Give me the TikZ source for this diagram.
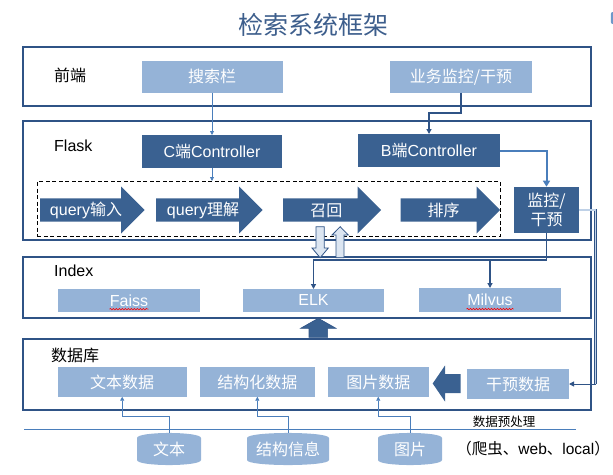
\documentclass[tikz,border=0pt]{standalone}
\usepackage{fontspec}
\setmainfont{Noto Sans CJK SC}
\newfontfamily\lat{Liberation Sans}
\usetikzlibrary{arrows.meta,calc,positioning,decorations.pathmorphing}

\definecolor{lightbox}{HTML}{95B3D7}
\definecolor{darkbox}{HTML}{3A6191}
\definecolor{frameblue}{HTML}{2F5386}
\definecolor{linkblue}{HTML}{4A7EBB}
\definecolor{titleblue}{HTML}{3D5E8C}
\definecolor{paleblue}{HTML}{DCE6F2}

\begin{document}
\begin{tikzpicture}[x=1pt,y=-1pt,>=Stealth]
  % Global text size and styles
  \def\fs{\fontsize{16}{19}\selectfont} % body text size
  \tikzset{
    section/.style = {draw=frameblue, line width=2pt, anchor=north west, minimum width=568.3pt, inner sep=0pt, outer sep=0pt},
    tag/.style     = {anchor=west, font=\fs, inner sep=0pt},
    lbox/.style    = {fill=lightbox, text=white, font=\fs, inner sep=0pt, outer sep=0pt},
    dbox/.style    = {fill=darkbox, text=white, font=\fs, inner sep=0pt, outer sep=0pt},
    flowtext/.style = {text=white, font=\fs, inner sep=0pt},
    cyltext/.style = {text=white, font=\fs, inner sep=0pt, minimum height=32pt},
    link/.style    = {draw=linkblue, line width=0.8pt, -{Triangle[length=4pt,width=4pt]}},
    mlink/.style   = {draw=frameblue, line width=1.5pt, -{Triangle[length=5pt,width=5pt]}},
    rail/.style    = {draw=frameblue, line width=0.6pt, double=lightbox!60, double distance=1.2pt},
    hollow/.style  = {fill=paleblue, draw=frameblue, line width=0.8pt},
    squiggle/.style = {draw=red, line width=0.6pt, decorate, decoration={snake, amplitude=0.7pt, segment length=3pt}}
  }
  \useasboundingbox (0,0) rectangle (613,474);

  % --- Title ---
  \node[font=\fontsize{25}{30}\selectfont, text=titleblue] (title) at (313,25) {检索系统框架};
  \fill[linkblue!80, rounded corners=2pt] (610.8,12) rectangle (620,24);

  % --- Layer frames ---
  \node[section, minimum height=59.3pt]  (front) at (22.7,46.7) {};
  \node[section, minimum height=119pt]   (flask) at (22.7,121) {};
  \node[section, minimum height=61.6pt]  (index) at (22.7,256.7) {};
  \node[section, minimum height=71.4pt]  (db)    at (22.7,339) {};

  \node[tag] (frontlbl) at (54,75)    {前端};
  \node[tag] (flasklbl) at (54,145.7) {\lat Flask};
  \node[tag] (indexlbl) at (54,270.7) {\lat Index};
  \node[tag] (dblbl)    at (51,355)   {数据库};

  % --- Front end ---
  \node[lbox, minimum width=141pt, minimum height=31.7pt] (search)    at (212,76.85) {搜索栏};
  \node[lbox, minimum width=142pt, minimum height=31.7pt] (monitorui) at (461,76.85) {业务监控/干预};

  % --- Flask ---
  \node[dbox, minimum width=140pt, minimum height=33.3pt] (cctrl) at (212,151.65) {{\lat C}端{\lat Controller}};
  \node[dbox, minimum width=142pt, minimum height=33pt]   (bctrl) at (429,150.5)  {{\lat B}端{\lat Controller}};
  \node[dbox, minimum width=65pt, minimum height=46.6pt, align=center] (monitor) at (546.5,210) {监控/\\干预};

  \node[draw, line width=0.8pt, dash pattern=on 4pt off 2.5pt, anchor=north west,
        minimum width=463pt, minimum height=54.7pt, inner sep=0pt] (pipeline) at (37,181) {};

  % pipeline steps: tail / tip / text centre
  \foreach \xa/\xt/\xc/\nm/\txt in {40/144.6/86/qinput/{\lat query}输入,
                                   156/262.7/203/qparse/{\lat query}理解,
                                   283/381/326.4/recall/召回,
                                   400.7/500/443.7/rank/排序} {
    \fill[darkbox] (\xa,198.3) -- ({\xt-23.5},198.3) -- ({\xt-23.5},186.5) -- (\xt,210)
      -- ({\xt-23.5},233.5) -- ({\xt-23.5},221.7) -- (\xa,221.7) -- cycle;
    \node[flowtext] (\nm) at (\xc,210.5) {\txt};
  }

  % --- Index ---
  \node[lbox, minimum width=142pt, minimum height=22.7pt] (faiss)  at (129,300.35)   {\lat Faiss};
  \node[lbox, minimum width=141pt, minimum height=22.7pt] (elk)    at (313.5,300.35) {\lat ELK};
  \node[lbox, minimum width=142pt, minimum height=23.7pt] (milvus) at (490,299.85)   {\lat Milvus};
  \draw[squiggle] ($(faiss)+(-19.5,8.8)$) -- ($(faiss)+(19.5,8.8)$);
  \draw[squiggle] ($(milvus)+(-23.5,9.2)$) -- ($(milvus)+(23.5,9.2)$);

  % --- Database ---
  \node[lbox, minimum width=128.6pt, minimum height=29.4pt] (textdata)   at (122.2,382)  {文本数据};
  \node[lbox, minimum width=114.7pt, minimum height=29.4pt] (structdata) at (257.35,382) {结构化数据};
  \node[lbox, minimum width=101.3pt, minimum height=29.4pt] (imagedata)  at (378.25,382) {图片数据};
  \node[lbox, minimum width=102pt,   minimum height=30pt]   (ganyu)      at (518,384)    {干预数据};

  % --- Block arrows between layers ---
  \draw[hollow] (316,226.7) -- (324.3,226.7) -- (324.3,248) -- (328.3,248) -- (320.15,257.7)
    -- (312,248) -- (316,248) -- cycle;
  \draw[hollow] (336,257.7) -- (344,257.7) -- (344,235) -- (348.3,235) -- (340.15,226.7)
    -- (332,235) -- (336,235) -- cycle;
  \draw[fill=darkbox, draw=frameblue, line width=0.6pt] (309,337.3) -- (327.6,337.3) -- (327.6,328.3)
    -- (336,328.3) -- (318.3,318.3) -- (300.6,328.3) -- (309,328.3) -- cycle;
  \fill[darkbox] (460.7,374) -- (445,374) -- (445,365.5) -- (432.7,383.5) -- (445,401.5)
    -- (445,393) -- (460.7,393) -- cycle;

  % --- Sources ---
  \node[font=\fontsize{12.5}{15}\selectfont] (prep) at (504,421.7) {数据预处理};
  \draw[linkblue, line width=0.8pt] (24,429.3) -- (575.5,429.3);

  \foreach \cx/\hw/\nm/\txt in {169/32/srctext/文本, 288/41/srcstruct/结构信息, 410/32/srcimage/图片} {
    \fill[lightbox] ({\cx-\hw},438) .. controls ({\cx-\hw},431.3) and ({\cx+\hw},431.3) .. ({\cx+\hw},438)
      -- ({\cx+\hw},460) .. controls ({\cx+\hw},466.7) and ({\cx-\hw},466.7) .. ({\cx-\hw},460) -- cycle;
    \node[cyltext, minimum width=2*\hw] (\nm) at (\cx,449) {\txt};
  }
  \node[font=\fontsize{15.5}{18}\selectfont, inner sep=0pt, anchor=east] (crawl) at (610,448.3) {（爬虫、{\lat web}、{\lat local}）};

  % --- Connectors ---
  \draw[link] (search.south) -- (cctrl.north);
  \draw[link] (cctrl.south) -- (cctrl.south |- pipeline.north);
  \draw[mlink] (monitorui.south) -- ++(0,20.3) -| (bctrl.north);
  \draw[draw=linkblue, line width=2pt, -{Triangle[length=6pt,width=7pt]}] (bctrl.east) -| (monitor.north);

  \coordinate (jkturn) at (monitor.south |- 0,260);
  \coordinate (mvbranch) at (milvus.north |- jkturn);
  \draw[mlink] (monitor.south) -- (jkturn) -| (elk.north);
  \draw[mlink] (mvbranch) -- (milvus.north);

  \coordinate (railtop) at (monitor.east -| 595.5,0);
  \coordinate (railbot) at (railtop |- ganyu.east);
  \draw[rail] (monitor.east) -- (railtop) -- (railbot);
  \draw[mlink, line width=1pt] (railbot) -- (ganyu.east);

  \draw[link] (srctext.north)   -- ++(0,-16) -| (textdata.south);
  \draw[link] (srcstruct.north) -- ++(0,-16) -| (structdata.south);
  \draw[link] (srcimage.north)  -- ++(0,-16) -| (imagedata.south);
\end{tikzpicture}
\end{document}
